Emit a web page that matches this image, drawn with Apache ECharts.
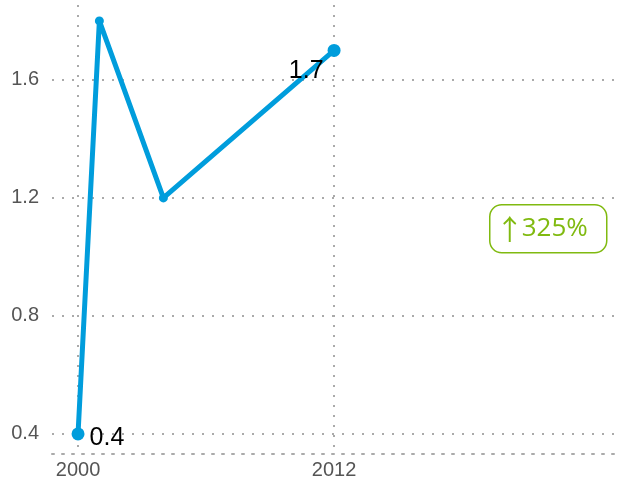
<!DOCTYPE html>
<html>
<head>
<meta charset="utf-8">
<script src="https://cdn.jsdelivr.net/npm/echarts@6/dist/echarts.min.js"></script>
<style>
  html, body { margin: 0; padding: 0; background: #fff; }
  #chart { width: 629px; height: 485px; }
</style>
</head>
<body>
<div id="chart"></div>
<script>
var years = [2000, 2001, 2004, 2012];
var values = [0.4, 1.8, 1.2, 1.7];
var yTicks = [0.4, 0.8, 1.2, 1.6];
var xTicks = [2000, 2012];
var changeText = '325%';

var chart = echarts.init(document.getElementById('chart'));

var gridLine = {
  show: true,
  lineStyle: { color: '#aaaaaa', width: 2, type: [2, 8] }
};

var points = years.map(function (y, i) {
  var p = { value: [y, values[i]] };
  if (i === 0) {
    p.symbolSize = 13;
    p.label = { show: true, position: 'right', offset: [0, 4], formatter: String(values[i]) };
  } else if (i === years.length - 1) {
    p.symbolSize = 13;
    p.label = { show: true, position: 'left', offset: [1, 21], formatter: String(values[i]) };
  } else {
    p.symbolSize = 9;
  }
  return p;
});

chart.setOption({
  backgroundColor: '#fff',
  animation: false,
  grid: { left: 52, right: 9, top: 5, bottom: 31, containLabel: false },
  xAxis: {
    type: 'value',
    min: 1998.78,
    max: 2025.4,
    axisLine: { show: true, lineStyle: { color: '#aaaaaa', width: 2, type: [2, 8] } },
    axisTick: { show: false, customValues: xTicks },
    axisLabel: {
      customValues: xTicks,
      color: '#555',
      fontSize: 20,
      fontFamily: 'Liberation Sans',
      margin: 6,
      formatter: function (v) { return String(v); }
    },
    splitLine: gridLine
  },
  yAxis: {
    type: 'value',
    min: 0.332,
    max: 1.854,
    axisLine: { show: false },
    axisTick: { show: false, customValues: yTicks },
    axisLabel: {
      customValues: yTicks,
      color: '#555',
      fontSize: 20,
      fontFamily: 'Liberation Sans',
      margin: 13,
      formatter: function (v) { return v.toFixed(1); }
    },
    splitLine: gridLine
  },
  series: [{
    type: 'line',
    data: points,
    symbol: 'circle',
    color: '#009ddc',
    lineStyle: { width: 5, color: '#009ddc' },
    itemStyle: { color: '#009ddc' },
    label: { color: '#000', fontSize: 25, fontFamily: 'Liberation Sans' }
  }],
  graphic: [{
    type: 'group',
    left: 489,
    top: 204,
    children: [{
      type: 'rect',
      shape: { x: 0, y: 0, width: 117, height: 48, r: 12 },
      style: { fill: '#fff', stroke: '#80ba10', lineWidth: 1.5 }
    }, {
      type: 'text',
      x: 20,
      y: 25,
      style: {
        text: '↑',
        fill: '#80ba10',
        fontSize: 28,
        fontFamily: 'Noto Sans CJK SC',
        align: 'center',
        verticalAlign: 'middle'
      }
    }, {
      type: 'text',
      x: 32,
      y: 24,
      style: {
        text: changeText,
        fill: '#80ba10',
        fontSize: 26,
        fontFamily: 'Open Sans',
        align: 'left',
        verticalAlign: 'middle'
      }
    }]
  }]
});
</script>
</body>
</html>
